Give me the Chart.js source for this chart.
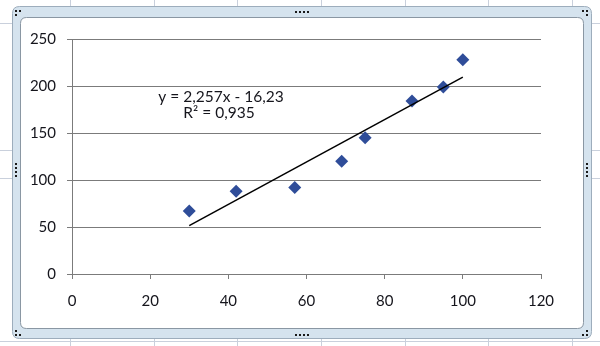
<!DOCTYPE html>
<html>
<head>
<meta charset="utf-8">
<script src="https://cdn.jsdelivr.net/npm/chart.js@4.4.1/dist/chart.umd.min.js"></script>
<style>
  html, body { margin: 0; padding: 0; background: #fff; }
  #wrap { width: 600px; height: 346px; position: relative; }
</style>
</head>
<body>
<div id="wrap"><canvas id="chart" width="600" height="346"></canvas></div>
<script>
// Datos del gráfico
const xValues = [30, 42, 57, 69, 75, 87, 95, 100];
const yValues = [67, 88, 92, 120, 145, 184, 199, 228];
const xTicks = [0, 20, 40, 60, 80, 100, 120];
const yTicks = [0, 50, 100, 150, 200, 250];
// Línea de tendencia (según la ecuación que muestra el gráfico)
const trendSlope = 2.257;
const trendIntercept = -16.23;
const equationLines = ['y = 2,257x - 16,23', 'R² = 0,935'];

const FONT = 'Lato, "Open Sans", sans-serif';
const TEXT = '#15151c';
const AXIS = '#7b7b7b';

const points = xValues.map((x, i) => ({ x: x, y: yValues[i] }));
const xMin = Math.min(...xValues), xMax = Math.max(...xValues);
const trendPoints = [xMin, xMax].map(x => ({ x: x, y: trendSlope * x + trendIntercept }));

function roundRect(ctx, x, y, w, h, r) {
    ctx.beginPath();
    ctx.moveTo(x + r, y);
    ctx.lineTo(x + w - r, y);
    ctx.quadraticCurveTo(x + w, y, x + w, y + r);
    ctx.lineTo(x + w, y + h - r);
    ctx.quadraticCurveTo(x + w, y + h, x + w - r, y + h);
    ctx.lineTo(x + r, y + h);
    ctx.quadraticCurveTo(x, y + h, x, y + h - r);
    ctx.lineTo(x, y + r);
    ctx.quadraticCurveTo(x, y, x + r, y);
    ctx.closePath();
}

function dots(ctx, list) {
    ctx.fillStyle = '#1a1a1a';
    list.forEach(p => ctx.fillRect(p[0], p[1], 2, 2));
}

// Fondo de hoja de cálculo y marco del objeto gráfico
const framePlugin = {
    id: 'frame',
    beforeDraw(chart) {
        const ctx = chart.ctx;
        ctx.save();
        ctx.fillStyle = '#fff';
        ctx.fillRect(0, 0, 600, 346);
        ctx.strokeStyle = '#c9d0dc';
        ctx.lineWidth = 1;
        [70, 154, 237, 321, 405, 488, 572].forEach(x => {
            ctx.beginPath(); ctx.moveTo(x + 0.5, 0); ctx.lineTo(x + 0.5, 346); ctx.stroke();
        });
        [23, 150, 178, 341].forEach(y => {
            ctx.beginPath(); ctx.moveTo(0, y + 0.5); ctx.lineTo(600, y + 0.5); ctx.stroke();
        });
        // banda exterior
        roundRect(ctx, 12.5, 6.5, 579, 332, 7);
        ctx.fillStyle = '#d5e3ee';
        ctx.fill();
        ctx.strokeStyle = '#9dadbc';
        ctx.stroke();
        // área blanca interior
        roundRect(ctx, 20.5, 17.5, 563, 311, 6);
        ctx.fillStyle = '#fff';
        ctx.fill();
        ctx.strokeStyle = '#8a97a3';
        ctx.stroke();
        // tiradores
        dots(ctx, [[15, 10], [19, 10], [15, 14],
                   [582, 10], [586, 10], [586, 14],
                   [15, 330], [15, 334], [19, 334],
                   [586, 330], [582, 334], [586, 334],
                   [295, 11], [299, 11], [303, 11], [307, 11],
                   [295, 334], [299, 334], [303, 334], [307, 334],
                   [15, 163], [15, 167], [15, 171], [15, 175],
                   [586, 163], [586, 167], [586, 171], [586, 175]]);
        ctx.restore();
    }
};

// Ecuación y R² de la línea de tendencia
const equationPlugin = {
    id: 'equation',
    afterDatasetsDraw(chart) {
        const ctx = chart.ctx;
        ctx.save();
        ctx.font = '15.5px ' + FONT;
        ctx.fillStyle = TEXT;
        ctx.textAlign = 'center';
        ctx.textBaseline = 'middle';
        ctx.fillText(equationLines[0], 221, 97);
        ctx.fillText(equationLines[1], 219, 113);
        ctx.restore();
    }
};

new Chart(document.getElementById('chart'), {
    type: 'scatter',
    data: {
        datasets: [
            {
                type: 'line',
                label: 'Tendencia',
                data: trendPoints,
                borderColor: '#000',
                borderWidth: 1.5,
                pointRadius: 0,
                fill: false,
                tension: 0
            },
            {
                label: 'Datos',
                data: points,
                pointStyle: 'rectRot',
                pointRadius: 6.5,
                backgroundColor: '#2f4d99',
                borderColor: '#2f4d99',
                borderWidth: 0
            }
        ]
    },
    options: {
        responsive: false,
        animation: false,
        devicePixelRatio: 1,
        layout: { padding: { top: 39, right: 59, left: 0, bottom: 0 } },
        plugins: {
            legend: { display: false },
            tooltip: { enabled: false }
        },
        scales: {
            x: {
                type: 'linear',
                min: xTicks[0],
                max: xTicks[xTicks.length - 1],
                afterBuildTicks(s) { s.ticks = xTicks.map(v => ({ value: v })); },
                ticks: { color: TEXT, font: { family: FONT, size: 15 }, padding: 13, maxRotation: 0 },
                grid: { drawOnChartArea: false, drawTicks: true, tickLength: 5, color: AXIS, lineWidth: 1 },
                border: { color: AXIS, width: 1 },
                afterFit(s) { s.height = 72; }
            },
            y: {
                min: yTicks[0],
                max: yTicks[yTicks.length - 1],
                afterBuildTicks(s) { s.ticks = yTicks.map(v => ({ value: v })); },
                ticks: { color: TEXT, font: { family: FONT, size: 15 }, padding: 11 },
                grid: { color: AXIS, lineWidth: 1, tickLength: 5 },
                border: { color: AXIS, width: 1 },
                afterFit(s) { s.width = 72; }
            }
        }
    },
    plugins: [framePlugin, equationPlugin]
});
</script>
</body>
</html>
